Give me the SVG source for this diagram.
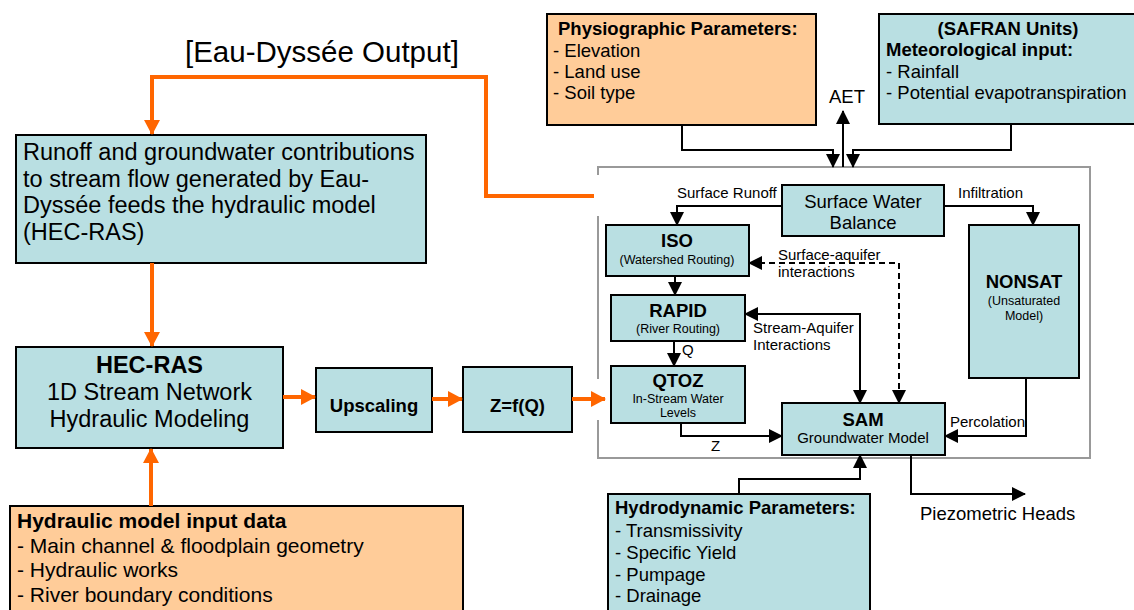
<svg xmlns="http://www.w3.org/2000/svg" width="1134" height="610" viewBox="0 0 1134 610">
<style>
text{font-family:"Liberation Sans",Arial,sans-serif;fill:#000}
.teal{fill:#B9DFE2;stroke:#000;stroke-width:2}
.peach{fill:#FFCC99;stroke:#000;stroke-width:2}
.b{font-weight:bold}
.c{text-anchor:middle}
.f23{font-size:23.5px}
.f21{font-size:21px}
.f18{font-size:18.5px}
.f15{font-size:15px}
.f12{font-size:12.5px}
.blk{fill:none;stroke:#000;stroke-width:2}
.org{fill:none;stroke:#FF6600;stroke-width:4}
.gray{fill:none;stroke:#999;stroke-width:2}
</style>
<defs>
<marker id="ab" viewBox="0 0 14 14" refX="13" refY="7" markerWidth="14" markerHeight="14" markerUnits="userSpaceOnUse" orient="auto-start-reverse">
<path d="M0,0 L14,7 L0,14 z" fill="#000"/>
</marker>
<marker id="ao" viewBox="0 0 15 16" refX="14" refY="8" markerWidth="15" markerHeight="16" markerUnits="userSpaceOnUse" orient="auto">
<path d="M0,0 L15,8 L0,16 z" fill="#FF6600"/>
</marker>
</defs>

<text x="185" y="62" style="font-size:29.5px">[Eau-Dyssée Output]</text>

<g id="container">
<path class="gray" d="M598,175 V167 H1090 V458 H598 V420 M598,379 V216"/>
</g>

<g id="node-runoff">
<rect class="teal" x="16" y="135" width="410" height="128"/>
<text class="f23" x="23" y="160">Runoff and groundwater contributions</text>
<text class="f23" x="23" y="187">to stream flow generated by Eau-</text>
<text class="f23" x="23" y="213">Dyssée feeds the hydraulic model</text>
<text class="f23" x="23" y="240">(HEC-RAS)</text>
</g>

<g id="node-hecras">
<rect class="teal" x="16" y="347" width="267" height="101"/>
<text class="f23 b c" x="149.5" y="373">HEC-RAS</text>
<text class="f23 c" x="149.5" y="400">1D Stream Network</text>
<text class="f23 c" x="149.5" y="427">Hydraulic Modeling</text>
</g>

<g id="node-hydraulic-input">
<rect class="peach" x="10" y="506" width="453" height="120"/>
<text class="f21 b" x="17" y="528">Hydraulic model input data</text>
<text class="f21" x="17" y="553">- Main channel &amp; floodplain geometry</text>
<text class="f21" x="17" y="577">- Hydraulic works</text>
<text class="f21" x="17" y="602">- River boundary conditions</text>
</g>

<g id="node-upscaling">
<rect class="teal" x="316" y="368" width="116" height="64"/>
<text class="f18 b c" x="374" y="412">Upscaling</text>
</g>

<g id="node-zfq">
<rect class="teal" x="463" y="367" width="109" height="65"/>
<text class="f18 b c" x="517.5" y="412">Z=f(Q)</text>
</g>

<g id="node-physio">
<rect class="peach" x="547" y="14" width="269" height="111"/>
<text class="f18 b" x="558" y="35">Physiographic Parameters:</text>
<text class="f18" x="553" y="57">- Elevation</text>
<text class="f18" x="553" y="78">- Land use</text>
<text class="f18" x="553" y="99">- Soil type</text>
</g>

<g id="node-safran">
<rect class="teal" x="879" y="14" width="265" height="110"/>
<text class="f18 b c" x="1008" y="35">(SAFRAN Units)</text>
<text class="f18 b" x="886" y="56">Meteorological input:</text>
<text class="f18" x="886" y="78">- Rainfall</text>
<text class="f18" x="886" y="99">- Potential evapotranspiration</text>
</g>

<g id="node-swb">
<rect class="teal" x="782" y="185" width="162" height="51"/>
<text class="f18 c" x="863" y="208">Surface Water</text>
<text class="f18 c" x="863" y="229">Balance</text>
</g>

<g id="node-iso">
<rect class="teal" x="606" y="225" width="143" height="51"/>
<text class="f18 b c" x="677" y="247">ISO</text>
<text class="f12 c" x="677" y="264">(Watershed Routing)</text>
</g>

<g id="node-rapid">
<rect class="teal" x="611" y="295" width="134" height="46"/>
<text class="f18 b c" x="678" y="317">RAPID</text>
<text class="f12 c" x="678" y="333">(River Routing)</text>
</g>

<g id="node-qtoz">
<rect class="teal" x="611" y="366" width="134" height="57"/>
<text class="f18 b c" x="678" y="387">QTOZ</text>
<text class="f12 c" x="678" y="403">In-Stream Water</text>
<text class="f12 c" x="678" y="417">Levels</text>
</g>

<g id="node-nonsat">
<rect class="teal" x="969" y="225" width="110" height="153"/>
<text class="f18 b c" x="1024" y="288">NONSAT</text>
<text class="f12 c" x="1024" y="305">(Unsaturated</text>
<text class="f12 c" x="1024" y="320">Model)</text>
</g>

<g id="node-sam">
<rect class="teal" x="782" y="403" width="163" height="52"/>
<text class="f18 b c" x="863" y="426">SAM</text>
<text class="f15 c" x="863" y="443">Groundwater Model</text>
</g>

<g id="node-hydrodynamic">
<rect class="teal" x="608" y="494" width="262" height="130"/>
<text class="f18 b" x="615" y="514">Hydrodynamic Parameters:</text>
<text class="f18" x="615" y="537">- Transmissivity</text>
<text class="f18" x="615" y="559">- Specific Yield</text>
<text class="f18" x="615" y="581">- Pumpage</text>
<text class="f18" x="615" y="602">- Drainage</text>
</g>

<g id="connectors">
<path class="org" d="M594,196 H486 V77 H152 V134" marker-end="url(#ao)"/>
<path class="org" d="M152,263 V346" marker-end="url(#ao)"/>
<path class="org" d="M151,506 V449" marker-end="url(#ao)"/>
<path class="org" d="M283,397 H315" marker-end="url(#ao)"/>
<path class="org" d="M432,399 H462" marker-end="url(#ao)"/>
<path class="org" d="M572,399 H605" marker-end="url(#ao)"/>

<path class="blk" d="M682,125 V150 H833 V167" marker-end="url(#ab)"/>
<path class="blk" d="M1011,124 V150 H853 V167" marker-end="url(#ab)"/>
<path class="blk" d="M843,167 V111" marker-end="url(#ab)"/>
<path class="blk" d="M782,206 H677 V225" marker-end="url(#ab)"/>
<path class="blk" d="M944,206 H1033 V225" marker-end="url(#ab)"/>
<path class="blk" d="M675,276 V295" marker-end="url(#ab)"/>
<path class="blk" d="M674,341 V366" marker-end="url(#ab)"/>
<path class="blk" d="M745,314 H860 V403" marker-start="url(#ab)" marker-end="url(#ab)"/>
<path class="blk" d="M749,263 H899 V403" stroke-dasharray="6,4" marker-start="url(#ab)" marker-end="url(#ab)"/>
<path class="blk" d="M681,423 V436 H782" marker-end="url(#ab)"/>
<path class="blk" d="M1026,378 V436 H945" marker-end="url(#ab)"/>
<path class="blk" d="M739,494 V479 H860 V455" marker-end="url(#ab)"/>
<path class="blk" d="M911,455 V494 H1025" marker-end="url(#ab)"/>

<text x="829" y="103" style="font-size:18.5px">AET</text>
<text class="f15" x="677" y="198">Surface Runoff</text>
<text class="f15" x="958" y="198">Infiltration</text>
<text class="f15" x="778" y="260">Surface-aquifer</text>
<text class="f15" x="778" y="277">interactions</text>
<text class="f15" x="753" y="333">Stream-Aquifer</text>
<text class="f15" x="753" y="350">Interactions</text>
<text class="f15" x="682" y="355">Q</text>
<text class="f15" x="711" y="451">Z</text>
<text class="f15" x="950" y="427">Percolation</text>
<text x="920" y="520" style="font-size:18.5px">Piezometric Heads</text>
</g>
</svg>
